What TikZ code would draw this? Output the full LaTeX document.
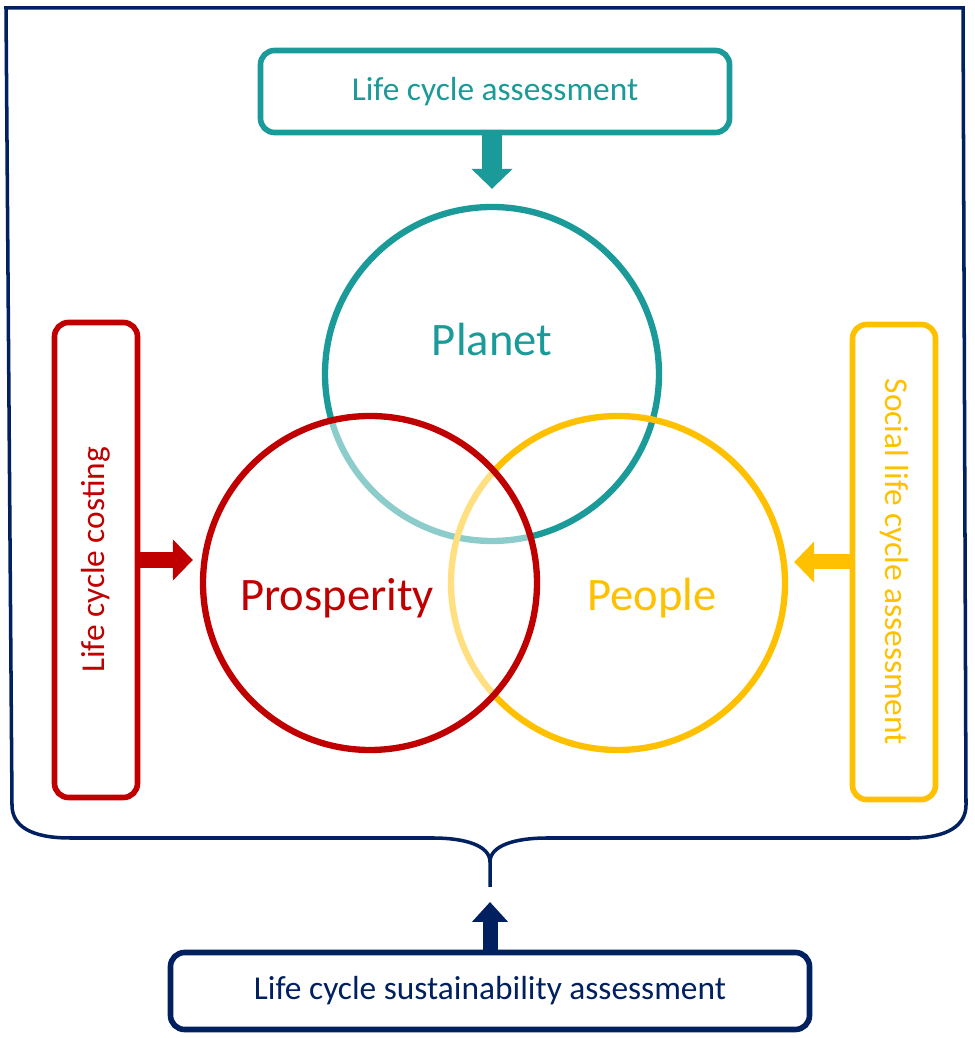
\documentclass[tikz,border=0pt]{standalone}
\usepackage{fontspec}
\setmainfont{Carlito}
\usetikzlibrary{arrows.meta,calc}
\definecolor{lcateal}{RGB}{26,154,152}
\definecolor{lccred}{RGB}{192,0,0}
\definecolor{slcayel}{RGB}{255,192,0}
\definecolor{lcsanavy}{RGB}{0,32,96}
\tikzset{
  box/.style={draw,rectangle,rounded corners=8pt,line width=3.2pt,align=center,inner sep=0pt,font=\fontsize{19}{23}\selectfont},
  lcabox/.style={box,draw=lcateal,text=lcateal},
  lccbox/.style={box,draw=lccred,text=lccred},
  slcabox/.style={box,draw=slcayel,text=slcayel},
  lcsabox/.style={box,draw=lcsanavy,text=lcsanavy},
  ring/.style={circle,draw,line width=3.6pt,minimum size=6.68cm,inner sep=0pt},
  lbl/.style={font=\fontsize{26.5}{30}\selectfont},
  fatarr/.style={-{Triangle[width=#1,length=0.4cm]}},
  fatarr/.default=0.8cm
}
\begin{document}
\begin{tikzpicture}
  \useasboundingbox (0,0) rectangle (19.48,20.76);
  % Outer brace
  \coordinate (brtip) at (9.8,3.02);
  \draw[lcsanavy, line width=2pt] (brtip) -- (9.8,3.52) .. controls (9.8,3.85) and (9.3,4.0) .. (8.66,4.0) -- (1.4,4.0) .. controls (0.6,4.0) and (0.24,4.25) .. (0.24,4.66) -- (0.12,20.6) -- (19.26,20.6) -- (19.32,4.66) .. controls (19.32,4.25) and (18.95,4.0) .. (18.2,4.0) -- (10.94,4.0) .. controls (10.3,4.0) and (9.8,3.85) .. (9.8,3.52);

  % Circles
  \node[ring, draw=lcateal] (planet) at (9.84,13.28) {};
  \node[ring, draw=slcayel] (people) at (12.36,9.1) {};
  \node[ring, draw=lccred, fill=white, fill opacity=0.5, draw opacity=1] (prosp) at (7.4,9.1) {};
  \node[lbl, text=lcateal] (planettxt) at ($(planet)+(0,0.68)$) {Planet};
  \node[lbl, text=lccred] (prosptxt) at (6.74,8.8) {Prosperity};
  \node[lbl, text=slcayel] (peopletxt) at (13.04,8.8) {People};

  % Method boxes
  \node[lcabox, minimum width=9.38cm, minimum height=1.64cm] (lca) at (9.9,18.93) {Life cycle assessment};
  \node[lccbox, minimum width=1.66cm, minimum height=9.5cm] (lcc) at (1.92,9.56) {\rotatebox{90}{Life cycle costing}};
  \node[slcabox, minimum width=1.66cm, minimum height=9.5cm] (slca) at (17.88,9.52) {\rotatebox{-90}{Social life cycle assessment}};
  \node[lcsabox, minimum width=12.78cm, minimum height=1.54cm] (lcsa) at (9.8,0.94) {Life cycle sustainability assessment};

  % Arrows
  \draw[fatarr, lcateal, line width=0.4cm, shorten >=0.3cm] (planet.north |- lca.south) -- (planet.north);
  \draw[fatarr, lccred, line width=0.32cm, shorten >=0.14cm] (lcc.east) -- (lcc.east -| prosp.west);
  \draw[fatarr, slcayel, line width=0.3cm, shorten >=0.12cm] (slca.west) -- (slca.west -| people.east);
  \draw[fatarr=0.7cm, lcsanavy, line width=0.3cm, shorten >=0.3cm] (lcsa.north) -- (brtip);
\end{tikzpicture}
\end{document}
